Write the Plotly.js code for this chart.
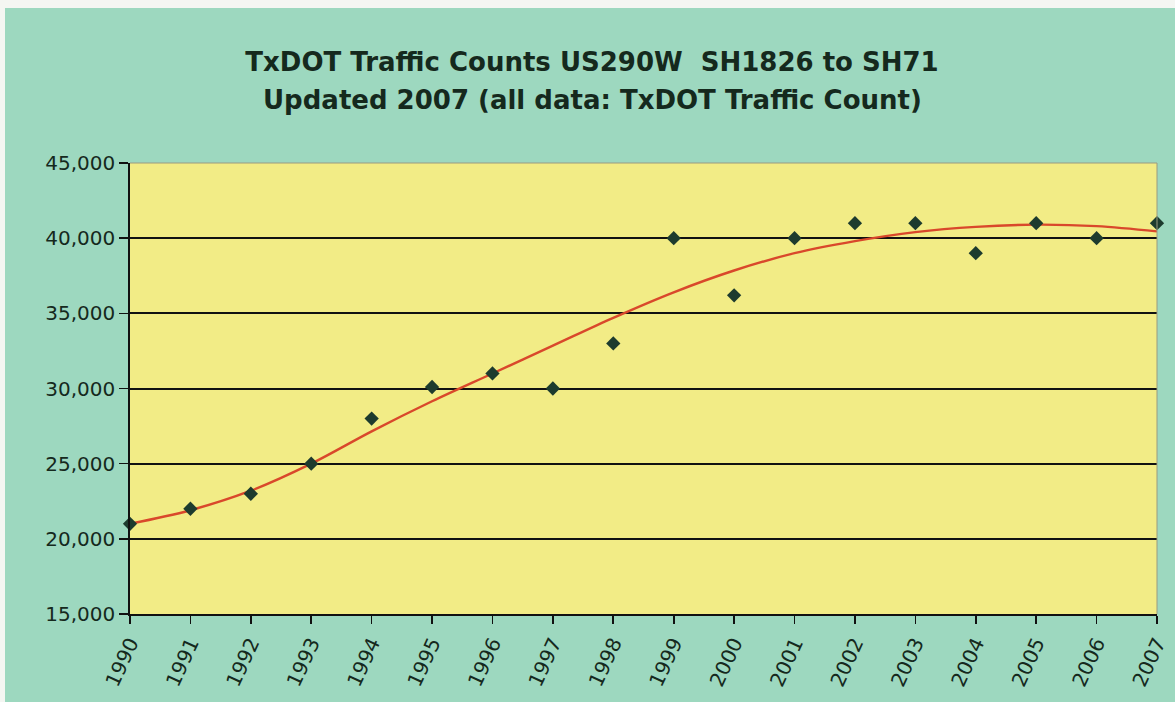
<!DOCTYPE html>
<html>
<head>
<meta charset="utf-8">
<script src="https://cdn.plot.ly/plotly-3.0.1.min.js"></script>
<style>
html,body{margin:0;padding:0;background:#f4f6f2;}
#chart{position:absolute;left:5px;top:8px;width:1170px;height:694px;}
</style>
</head>
<body>
<div id="chart"></div>
<script>
// Data
const years = [1990,1991,1992,1993,1994,1995,1996,1997,1998,1999,2000,2001,2002,2003,2004,2005,2006,2007];
const counts = [21000,22000,23000,25000,28000,30100,31000,30000,33000,40000,36200,40000,41000,41000,39000,41000,40000,41000];
// Trendline values at each year
const trend = [21000,21900,23200,25000,27150,29150,31000,32850,34700,36400,37850,39000,39800,40400,40750,40900,40800,40450];
const yTicks = [15000,20000,25000,30000,35000,40000,45000];
const yTickText = ["15,000","20,000","25,000","30,000","35,000","40,000","45,000"];
const xTickText = years.map(String);
const titleLine1 = 'TxDOT Traffic Counts US290W  SH1826 to SH71';
const titleLine2 = 'Updated 2007 (all data: TxDOT Traffic Count)';

const titleFont = {family: 'DejaVu Sans, sans-serif', size: 26, color: '#15291d', weight: 'bold'};
const tickFont = {family: 'DejaVu Sans, sans-serif', size: 20, color: '#15291d'};

const trendTrace = {
  x: years, y: trend, type: 'scatter', mode: 'lines',
  line: {color: '#d9482b', width: 2.4, shape: 'spline', smoothing: 1.0},
  hoverinfo: 'skip', showlegend: false
};
const pointTrace = {
  x: years, y: counts, type: 'scatter', mode: 'markers',
  marker: {symbol: 'diamond', size: 11, color: '#1d3b2e', line: {width: 0}},
  showlegend: false, cliponaxis: false
};

const layout = {
  width: 1170, height: 694,
  paper_bgcolor: '#9dd8bf',
  plot_bgcolor: '#f2ec86',
  margin: {l: 125, r: 18, t: 155, b: 88},
  title: {
    text: titleLine1,
    font: titleFont,
    x: 587 / 1170, xanchor: 'center', y: 1 - 54/694, yanchor: 'middle'
  },
  annotations: [{
    text: titleLine2, font: titleFont, showarrow: false,
    xref: 'paper', yref: 'paper', x: (587 - 125) / 1027, xanchor: 'center',
    y: (606 - 92) / 451, yanchor: 'middle'
  }],
  xaxis: {
    range: [1990, 2007],
    tickmode: 'array', tickvals: years, ticktext: xTickText,
    tickangle: -65,
    ticks: 'outside', ticklen: 8, tickwidth: 1.6, tickcolor: '#111',
    showline: true, linecolor: '#111', linewidth: 1.8,
    showgrid: false, zeroline: false,
    tickfont: tickFont
  },
  yaxis: {
    range: [15000, 45000],
    tickmode: 'array', tickvals: yTicks, ticktext: yTickText,
    ticks: 'outside', ticklen: 9, tickwidth: 1.6, tickcolor: '#111',
    showline: true, linecolor: '#111', linewidth: 1.8,
    showgrid: true, gridcolor: '#111', gridwidth: 2,
    zeroline: false,
    tickfont: tickFont
  },
  shapes: [
    {type: 'line', xref: 'paper', yref: 'paper', x0: 1, x1: 1, y0: 0, y1: 1, line: {color: '#9a9a80', width: 1}},
    {type: 'line', xref: 'paper', yref: 'paper', x0: 0, x1: 1, y0: 1, y1: 1, line: {color: '#9a9a80', width: 1}}
  ]
};

Plotly.newPlot('chart', [trendTrace, pointTrace], layout, {displayModeBar: false, staticPlot: true});
</script>
</body>
</html>
